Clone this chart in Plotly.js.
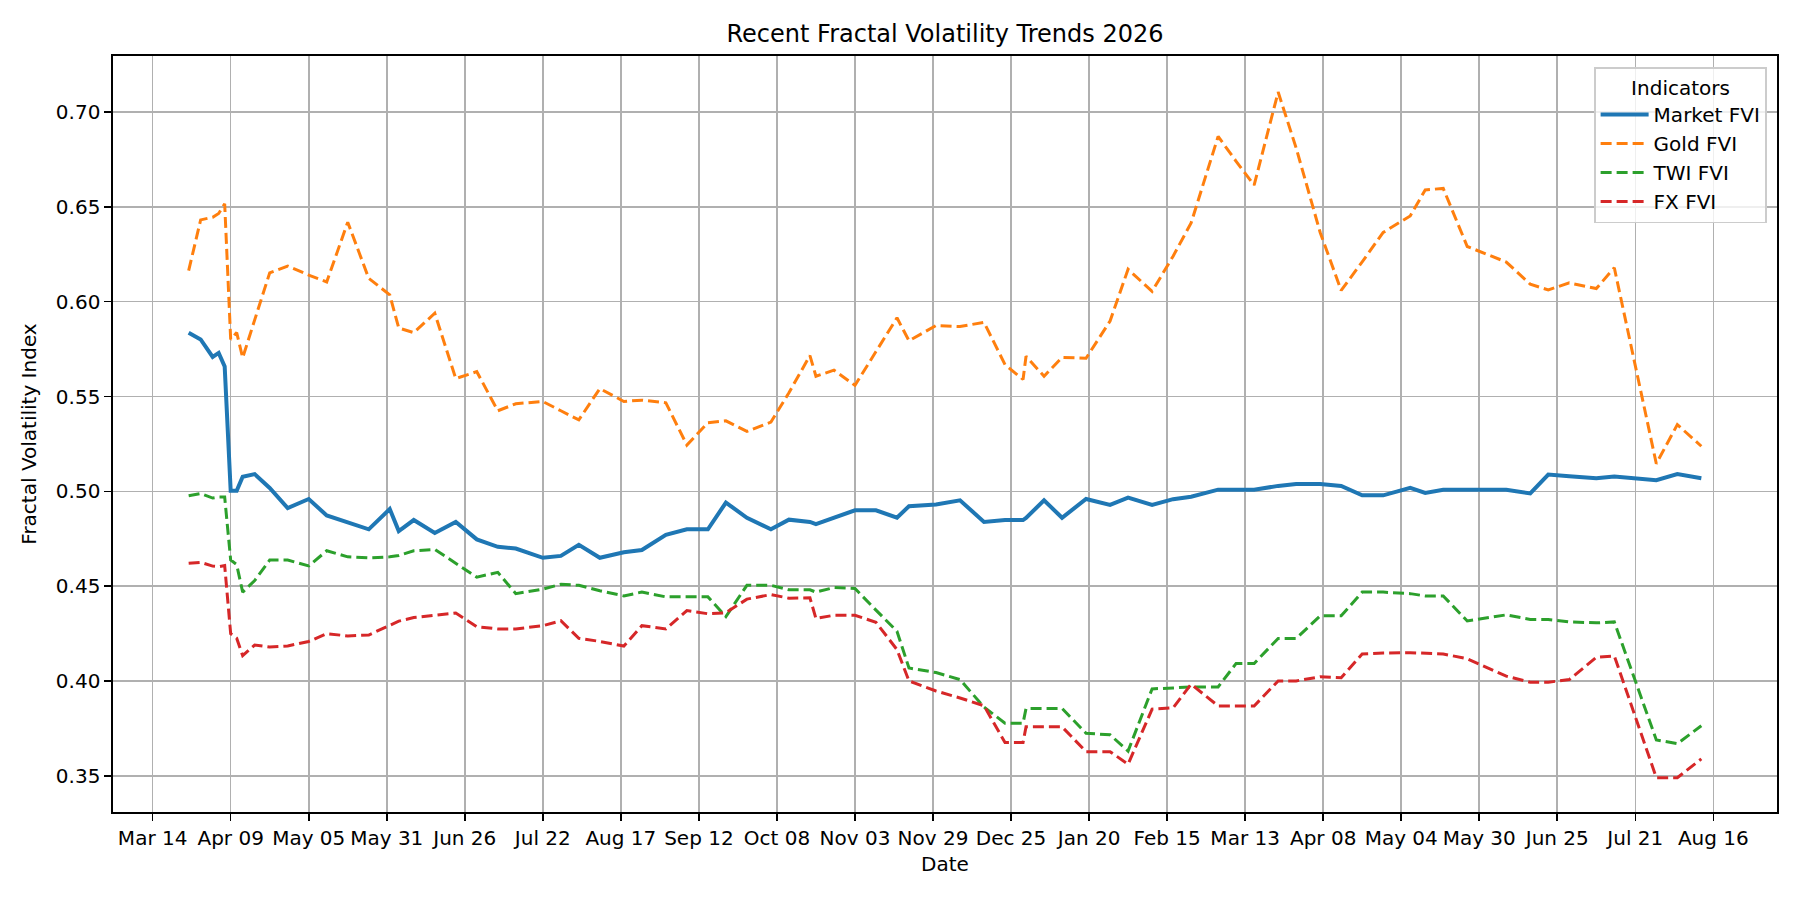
<!DOCTYPE html>
<html>
<head>
<meta charset="utf-8">
<script src="https://cdn.plot.ly/plotly-3.0.1.min.js"></script>
<style>
  html, body {margin: 0; padding: 0; background: #ffffff;}
  #div-fvi {width: 1800px; height: 900px;}
</style>
</head>
<body>
<div id="div-fvi"></div>
<script>
var dates = [
    '2024-03-26', '2024-03-30', '2024-04-03', '2024-04-05', '2024-04-07',
    '2024-04-09', '2024-04-11', '2024-04-13', '2024-04-17', '2024-04-22',
    '2024-04-28', '2024-05-05', '2024-05-11', '2024-05-18', '2024-05-25',
    '2024-06-01', '2024-06-04', '2024-06-09', '2024-06-16', '2024-06-23',
    '2024-06-30', '2024-07-07', '2024-07-13', '2024-07-22', '2024-07-28',
    '2024-08-03', '2024-08-10', '2024-08-18', '2024-08-24', '2024-09-01',
    '2024-09-08', '2024-09-15', '2024-09-21', '2024-09-28', '2024-10-06',
    '2024-10-12', '2024-10-19', '2024-10-21', '2024-10-27', '2024-11-03',
    '2024-11-10', '2024-11-17', '2024-11-21', '2024-11-30', '2024-12-08',
    '2024-12-16', '2024-12-23', '2024-12-29', '2024-12-30', '2025-01-05',
    '2025-01-11', '2025-01-19', '2025-01-27', '2025-02-02', '2025-02-10',
    '2025-02-17', '2025-02-23', '2025-03-04', '2025-03-10', '2025-03-16',
    '2025-03-24', '2025-03-30', '2025-04-07', '2025-04-14', '2025-04-21',
    '2025-04-28', '2025-05-07', '2025-05-12', '2025-05-18', '2025-05-26',
    '2025-06-08', '2025-06-16', '2025-06-22', '2025-06-29', '2025-07-08',
    '2025-07-14', '2025-07-28', '2025-08-04', '2025-08-12'
];

var market_fvi = [
    0.5836, 0.5801, 0.5709, 0.5730, 0.5659,
    0.5003, 0.5003, 0.5077, 0.5091, 0.5018,
    0.4912, 0.4960, 0.4873, 0.4839, 0.4800,
    0.4907, 0.4791, 0.4849, 0.4781, 0.4839,
    0.4747, 0.4708, 0.4699, 0.4650, 0.4660,
    0.4718, 0.4650, 0.4679, 0.4691, 0.4771,
    0.4800, 0.4800, 0.4941, 0.4861, 0.4800,
    0.4851, 0.4839, 0.4827, 0.4863, 0.4900,
    0.4900, 0.4861, 0.4922, 0.4931, 0.4953,
    0.4839, 0.4849, 0.4849, 0.4860, 0.4953,
    0.4861, 0.4960, 0.4929, 0.4967, 0.4929,
    0.4959, 0.4972, 0.5009, 0.5009, 0.5009,
    0.5029, 0.5039, 0.5039, 0.5029, 0.4979,
    0.4979, 0.5019, 0.4992, 0.5009, 0.5009,
    0.5009, 0.4989, 0.5089, 0.5080, 0.5069,
    0.5079, 0.5059, 0.5091, 0.5069
];

var gold_fvi = [
    0.6164, 0.6431, 0.6445, 0.6465, 0.6516,
    0.5801, 0.5837, 0.5704, 0.5904, 0.6152,
    0.6188, 0.6140, 0.6104, 0.6419, 0.6123,
    0.6036, 0.5861, 0.5837, 0.5939, 0.5595,
    0.5631, 0.5425, 0.5462, 0.5474, 0.5425,
    0.5377, 0.5542, 0.5474, 0.5481, 0.5467,
    0.5244, 0.5362, 0.5372, 0.5316, 0.5365,
    0.5520, 0.5716, 0.5607, 0.5639, 0.5559,
    0.5737, 0.5915, 0.5794, 0.5874, 0.5869,
    0.5891, 0.5668, 0.5590, 0.5712, 0.5607,
    0.5706, 0.5702, 0.5898, 0.6171, 0.6054,
    0.6240, 0.6415, 0.6871, 0.6740, 0.6614,
    0.7105, 0.6810, 0.6365, 0.6059, 0.6210,
    0.6365, 0.6452, 0.6589, 0.6597, 0.6291,
    0.6209, 0.6092, 0.6062, 0.6099, 0.6069,
    0.6179, 0.5146, 0.5352, 0.5238
];

var twi_fvi = [
    0.4977, 0.4989, 0.4965, 0.4970, 0.4970,
    0.4638, 0.4614, 0.4469, 0.4530, 0.4638,
    0.4638, 0.4607, 0.4687, 0.4655, 0.4650,
    0.4655, 0.4662, 0.4687, 0.4694, 0.4621,
    0.4548, 0.4573, 0.4461, 0.4485, 0.4510,
    0.4505, 0.4476, 0.4449, 0.4469, 0.4444,
    0.4444, 0.4444, 0.4340, 0.4505, 0.4505,
    0.4481, 0.4481, 0.4469, 0.4493, 0.4488,
    0.4374, 0.4263, 0.4069, 0.4045, 0.4008,
    0.3863, 0.3778, 0.3778, 0.3856, 0.3856,
    0.3856, 0.3725, 0.3717, 0.3631, 0.3959,
    0.3964, 0.3969, 0.3969, 0.4093, 0.4093,
    0.4225, 0.4225, 0.4344, 0.4344, 0.4469,
    0.4469, 0.4461, 0.4449, 0.4449, 0.4317,
    0.4349, 0.4325, 0.4325, 0.4312, 0.4307,
    0.4312, 0.3690, 0.3670, 0.3765
];

var fx_fvi = [
    0.4621, 0.4626, 0.4606, 0.4603, 0.4609,
    0.4250, 0.4226, 0.4134, 0.4190, 0.4180,
    0.4185, 0.4209, 0.4250, 0.4238, 0.4243,
    0.4292, 0.4316, 0.4335, 0.4347, 0.4359,
    0.4287, 0.4275, 0.4275, 0.4292, 0.4318,
    0.4226, 0.4209, 0.4185, 0.4292, 0.4275,
    0.4372, 0.4355, 0.4360, 0.4432, 0.4456,
    0.4437, 0.4439, 0.4330, 0.4347, 0.4347,
    0.4310, 0.4166, 0.4001, 0.3948, 0.3911,
    0.3870, 0.3676, 0.3676, 0.3759, 0.3759,
    0.3759, 0.3628, 0.3628, 0.3562, 0.3852,
    0.3859, 0.3984, 0.3869, 0.3869, 0.3869,
    0.4001, 0.4001, 0.4023, 0.4018, 0.4143,
    0.4148, 0.4150, 0.4146, 0.4143, 0.4118,
    0.4026, 0.3994, 0.3994, 0.4008, 0.4125,
    0.4133, 0.3491, 0.3491, 0.3590
];

var font_family = 'DejaVu Sans, Liberation Sans, sans-serif';
var dash_style = '11px,5px';

function make_line(y, name, color, width, dash) {
    return {
        x: dates,
        y: y,
        type: 'scatter',
        mode: 'lines',
        name: name,
        line: {color: color, width: width, dash: dash}
    };
}

var data = [
    make_line(market_fvi, 'Market FVI', '#1f77b4', 4, 'solid'),
    make_line(gold_fvi, 'Gold FVI', '#ff7f0e', 3, dash_style),
    make_line(twi_fvi, 'TWI FVI', '#2ca02c', 3, dash_style),
    make_line(fx_fvi, 'FX FVI', '#d62728', 3, dash_style)
];

var axis_common = {
    showline: true,
    linecolor: '#000000',
    linewidth: 1.6,
    mirror: true,
    ticks: 'outside',
    ticklen: 7,
    tickwidth: 1.6,
    tickcolor: '#000000',
    showgrid: true,
    gridcolor: '#b0b0b0',
    gridwidth: 1.6,
    zeroline: false,
    tickfont: {family: font_family, size: 20, color: '#000000'}
};

var layout = {
    width: 1800,
    height: 900,
    autosize: false,
    paper_bgcolor: '#ffffff',
    plot_bgcolor: '#ffffff',
    font: {family: font_family, size: 20, color: '#000000'},
    margin: {l: 113, r: 23, t: 56, b: 88, pad: 0},
    title: {
        text: 'Recent Fractal Volatility Trends 2026',
        font: {family: font_family, size: 24, color: '#000000'},
        xref: 'paper',
        x: 0.5,
        xanchor: 'center',
        yref: 'container',
        y: 1 - 34 / 900,
        yanchor: 'middle'
    },
    xaxis: Object.assign({}, axis_common, {
        type: 'date',
        range: ['2024-02-29 19:00', '2025-09-06 05:00'],
        tick0: '2024-03-14',
        dtick: 26 * 86400000,
        tickformat: '%b %d',
        title: {text: 'Date', font: {family: font_family, size: 20}, standoff: 8}
    }),
    yaxis: Object.assign({}, axis_common, {
        range: [0.3310, 0.7295],
        tick0: 0.35,
        dtick: 0.05,
        tickformat: '.2f',
        title: {text: 'Fractal Volatility Index', font: {family: font_family, size: 20}, standoff: 14}
    }),
    showlegend: true,
    legend: {
        x: 0.994,
        y: 0.985,
        xanchor: 'right',
        yanchor: 'top',
        bgcolor: 'rgba(255,255,255,0.8)',
        bordercolor: '#cccccc',
        borderwidth: 1.6,
        font: {family: font_family, size: 20, color: '#000000'},
        title: {text: 'Indicators', side: 'top center', font: {family: font_family, size: 20}},
        itemwidth: 48,
        tracegroupgap: 0
    }
};

Plotly.newPlot('div-fvi', data, layout, {staticPlot: true, displayModeBar: false});
</script>
</body>
</html>
